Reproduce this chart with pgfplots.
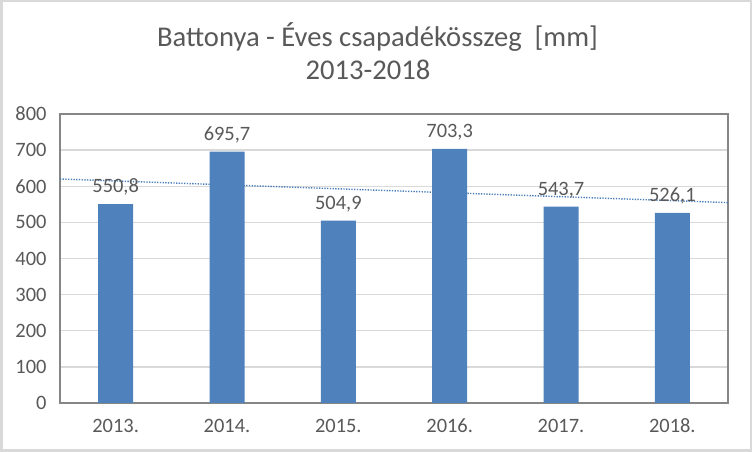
\documentclass[border=0pt]{standalone}
\usepackage{fontspec}
\setmainfont{Carlito}
\usepackage{pgfplots}
\pgfplotsset{compat=1.18}
\definecolor{barblue}{HTML}{4F81BD}
\definecolor{trendc}{HTML}{4A7EBB}
\definecolor{txt}{HTML}{595959}
\definecolor{gridc}{HTML}{D9D9D9}
\definecolor{framec}{HTML}{868686}
\definecolor{borderc}{HTML}{D9D9D9}
\begin{document}
\begin{tikzpicture}[x=1bp,y=1bp]
\useasboundingbox (0,0) rectangle (752,452);
\fill[white] (0,0) rectangle (752,452);
\draw[borderc, line width=2.5bp] (1.25,1.25) rectangle (750.75,450.75);
\node[anchor=base, text=txt, font=\fontsize{28.7}{34}\selectfont, inner sep=0] at (377.5,405) {Battonya - Éves csapadékösszeg\ \ [mm]};
\node[anchor=base, text=txt, font=\fontsize{28.7}{34}\selectfont, inner sep=0] at (368,372) {2013-2018};
\begin{axis}[
  at={(60bp,49bp)}, anchor=south west,
  scale only axis, width=668bp, height=289bp,
  xmin=-0.5, xmax=5.5, ymin=0, ymax=800,
  xtick={0,1,2,3,4,5},
  xticklabels={2013.,2014.,2015.,2016.,2017.,2018.},
  ytick={0,100,...,800},
  ymajorgrids, grid style={gridc, line width=1.3bp},
  axis line style={framec, line width=1.6bp},
  major tick length=0,
  tick label style={font=\fontsize{20.5}{22}\selectfont, text=txt},
  /pgf/number format/assume math mode=true,
  yticklabel style={xshift=-10bp},
  xticklabel style={anchor=base, yshift=-30bp},
  clip=true,
]
\addplot[trendc, line width=1.4bp, dash pattern=on 1.3bp off 1.4bp, no marks, sharp plot] coordinates {(-0.5,620.1) (5.5,554.7)};
\addplot[ybar, bar width=35bp, fill=barblue, draw=none,
  nodes near coords={\pgfmathprintnumber[use comma,fixed,fixed zerofill,precision=1,assume math mode=true]{\pgfplotspointmeta}},
  nodes near coords style={font=\fontsize{20.5}{22}\selectfont, text=txt, yshift=5bp}]
  coordinates {(0,550.8) (1,695.7) (2,504.9) (3,703.3) (4,543.7) (5,526.1)};
\end{axis}
\end{tikzpicture}
\end{document}
